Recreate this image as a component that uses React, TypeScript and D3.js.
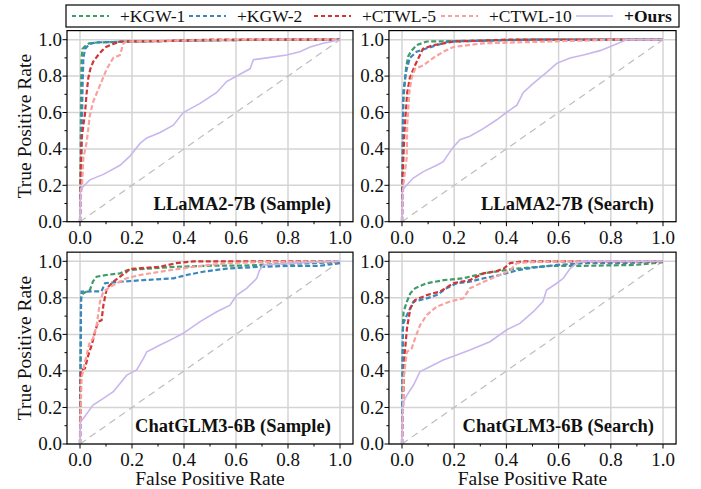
import React from "react";
import * as d3 from "d3";

type Pt = [number, number];

const seriesNames = ["+KGW-1", "+KGW-2", "+CTWL-5", "+CTWL-10", "+Ours"];
const seriesColors = ["#3f9b68", "#3a87c0", "#d23535", "#f8a19d", "#c9b6ec"];
const panelTitles = ["LLaMA2-7B (Sample)", "LLaMA2-7B (Search)", "ChatGLM3-6B (Sample)", "ChatGLM3-6B (Search)"];
const tickValues = [0, 0.2, 0.4, 0.6, 0.8, 1.0];
const minorTickValues = [0.1, 0.3, 0.5, 0.7, 0.9];

// LLaMA2-7B (Sample)
const llamaSampleKGW1: Pt[] = [[0,0],[0.002,0.3],[0.004,0.7],[0.006,0.9],[0.01,0.95],[0.02,0.965],[0.035,0.98],[0.07,0.985],[0.2,0.99],[0.45,0.995],[0.7,1],[1,1]];
const llamaSampleKGW2: Pt[] = [[0,0],[0.004,0.25],[0.007,0.5],[0.01,0.75],[0.013,0.9],[0.02,0.95],[0.035,0.975],[0.06,0.985],[0.2,0.99],[0.45,0.995],[0.7,1],[1,1]];
const llamaSampleCTWL5: Pt[] = [[0,0],[0.002,0.2],[0.004,0.35],[0.0065,0.46],[0.012,0.52],[0.019,0.59],[0.025,0.7],[0.032,0.79],[0.04,0.84],[0.051,0.88],[0.07,0.916],[0.085,0.94],[0.1,0.96],[0.125,0.975],[0.154,0.99],[0.3,0.992],[0.5,1],[1,1]];
const llamaSampleCTWL10: Pt[] = [[0,0],[0.004,0.15],[0.008,0.2],[0.013,0.35],[0.026,0.44],[0.038,0.586],[0.051,0.66],[0.077,0.75],[0.103,0.84],[0.128,0.9],[0.154,0.916],[0.167,0.98],[0.18,0.99],[0.4,0.995],[0.6,1],[1,1]];
const llamaSampleOurs: Pt[] = [[0,0],[0.002,0.18],[0.01,0.19],[0.038,0.23],[0.09,0.26],[0.154,0.31],[0.192,0.36],[0.231,0.43],[0.257,0.46],[0.308,0.49],[0.359,0.53],[0.397,0.6],[0.462,0.65],[0.526,0.71],[0.564,0.77],[0.615,0.81],[0.654,0.84],[0.667,0.89],[0.718,0.9],[0.795,0.916],[0.846,0.934],[0.885,0.96],[0.936,0.98],[1,1]];

// LLaMA2-7B (Search)
const llamaSearchKGW1: Pt[] = [[0,0],[0.002,0.3],[0.004,0.55],[0.005,0.66],[0.011,0.77],[0.016,0.85],[0.024,0.91],[0.037,0.94],[0.056,0.97],[0.095,0.99],[0.3,0.995],[0.45,1],[1,1]];
const llamaSearchKGW2: Pt[] = [[0,0],[0.002,0.3],[0.004,0.6],[0.005,0.714],[0.015,0.82],[0.03,0.9],[0.056,0.934],[0.095,0.953],[0.133,0.97],[0.18,0.99],[0.5,1],[1,1]];
const llamaSearchCTWL5: Pt[] = [[0,0],[0.003,0.25],[0.008,0.45],[0.011,0.53],[0.02,0.71],[0.03,0.79],[0.05,0.86],[0.069,0.916],[0.08,0.95],[0.12,0.97],[0.16,0.98],[0.2,0.99],[0.4,1],[1,1]];
const llamaSearchCTWL10: Pt[] = [[0,0],[0.005,0.2],[0.018,0.35],[0.02,0.53],[0.028,0.71],[0.037,0.79],[0.05,0.84],[0.082,0.86],[0.12,0.9],[0.158,0.934],[0.197,0.96],[0.31,0.98],[0.56,0.99],[0.82,1],[1,1]];
const llamaSearchOurs: Pt[] = [[0,0],[0.002,0.17],[0.005,0.18],[0.043,0.24],[0.082,0.275],[0.133,0.31],[0.158,0.33],[0.184,0.385],[0.197,0.41],[0.222,0.45],[0.26,0.47],[0.31,0.51],[0.363,0.56],[0.4,0.6],[0.44,0.64],[0.465,0.71],[0.503,0.76],[0.554,0.82],[0.593,0.87],[0.644,0.9],[0.695,0.916],[0.759,0.94],[0.81,0.97],[0.86,1],[1,1]];

// ChatGLM3-6B (Sample)
const glmSampleKGW1: Pt[] = [[0,0],[0.002,0.4],[0.004,0.8],[0.013,0.825],[0.038,0.843],[0.05,0.89],[0.064,0.916],[0.1,0.925],[0.154,0.934],[0.18,0.95],[0.257,0.96],[0.37,0.97],[0.5,0.976],[0.628,0.976],[0.757,0.985],[0.885,0.99],[1,0.995]];
const glmSampleKGW2: Pt[] = [[0,0],[0.002,0.4],[0.004,0.78],[0.006,0.834],[0.083,0.836],[0.096,0.88],[0.154,0.888],[0.244,0.897],[0.36,0.907],[0.41,0.925],[0.474,0.943],[0.564,0.96],[0.69,0.97],[0.82,0.975],[0.92,0.975],[1,0.99]];
const glmSampleCTWL5: Pt[] = [[0,0],[0.002,0.2],[0.003,0.405],[0.019,0.414],[0.032,0.487],[0.045,0.542],[0.058,0.615],[0.07,0.67],[0.083,0.677],[0.09,0.76],[0.103,0.852],[0.128,0.888],[0.18,0.943],[0.19,0.958],[0.308,0.97],[0.37,0.99],[0.436,1],[1,1]];
const glmSampleCTWL10: Pt[] = [[0,0],[0.003,0.21],[0.006,0.36],[0.019,0.45],[0.038,0.56],[0.05,0.578],[0.064,0.65],[0.077,0.78],[0.09,0.834],[0.128,0.87],[0.18,0.907],[0.231,0.925],[0.308,0.943],[0.436,0.97],[0.564,0.99],[0.69,0.995],[1,1]];
const glmSampleOurs: Pt[] = [[0,0],[0.002,0.122],[0.013,0.14],[0.05,0.213],[0.09,0.25],[0.128,0.286],[0.18,0.377],[0.218,0.405],[0.244,0.469],[0.257,0.505],[0.308,0.542],[0.36,0.578],[0.397,0.606],[0.462,0.67],[0.526,0.724],[0.577,0.76],[0.603,0.815],[0.641,0.852],[0.68,0.907],[0.69,0.95],[0.705,0.98],[0.82,0.99],[1,1]];

// ChatGLM3-6B (Search)
const glmSearchKGW1: Pt[] = [[0,0],[0.002,0.4],[0.004,0.67],[0.006,0.724],[0.019,0.78],[0.032,0.825],[0.05,0.852],[0.095,0.88],[0.16,0.897],[0.235,0.907],[0.313,0.934],[0.39,0.95],[0.44,0.96],[0.567,0.975],[0.695,0.975],[0.89,0.98],[1,0.995]];
const glmSearchKGW2: Pt[] = [[0,0],[0.002,0.4],[0.003,0.62],[0.005,0.66],[0.019,0.706],[0.044,0.78],[0.095,0.797],[0.133,0.815],[0.17,0.852],[0.21,0.88],[0.26,0.888],[0.313,0.907],[0.375,0.925],[0.44,0.95],[0.503,0.965],[0.595,0.98],[0.7,0.99],[0.85,0.99],[1,1]];
const glmSearchCTWL5: Pt[] = [[0,0],[0.004,0.2],[0.008,0.4],[0.011,0.505],[0.019,0.633],[0.032,0.743],[0.05,0.788],[0.095,0.815],[0.146,0.834],[0.197,0.88],[0.26,0.897],[0.313,0.934],[0.363,0.947],[0.39,0.96],[0.414,0.99],[0.465,1],[1,1]];
const glmSearchCTWL10: Pt[] = [[0,0],[0.004,0.2],[0.006,0.36],[0.019,0.505],[0.037,0.523],[0.05,0.578],[0.069,0.65],[0.095,0.706],[0.133,0.752],[0.184,0.78],[0.235,0.797],[0.26,0.852],[0.313,0.888],[0.375,0.925],[0.414,0.95],[0.44,0.99],[0.49,0.995],[0.6,1],[1,1]];
const glmSearchOurs: Pt[] = [[0,0],[0.002,0.2],[0.005,0.23],[0.019,0.268],[0.044,0.323],[0.069,0.396],[0.107,0.423],[0.158,0.46],[0.21,0.487],[0.26,0.514],[0.337,0.56],[0.4,0.624],[0.452,0.66],[0.503,0.724],[0.54,0.78],[0.554,0.843],[0.593,0.88],[0.618,0.907],[0.644,0.96],[0.67,0.99],[0.69,1],[1,1]];

const panelData: Pt[][][] = [
  [llamaSampleKGW1, llamaSampleKGW2, llamaSampleCTWL5, llamaSampleCTWL10, llamaSampleOurs],
  [llamaSearchKGW1, llamaSearchKGW2, llamaSearchCTWL5, llamaSearchCTWL10, llamaSearchOurs],
  [glmSampleKGW1, glmSampleKGW2, glmSampleCTWL5, glmSampleCTWL10, glmSampleOurs],
  [glmSearchKGW1, glmSearchKGW2, glmSearchCTWL5, glmSearchCTWL10, glmSearchOurs],
];

const FONT = "'Liberation Serif', 'Times New Roman', serif";

const panelLayout = [
  { x0: 80, x1: 340, yTop: 39.7, yBot: 221.7, showY: true, showX: false },
  { x0: 402, x1: 663, yTop: 39.7, yBot: 221.7, showY: false, showX: false },
  { x0: 80, x1: 340, yTop: 261.3, yBot: 444, showY: true, showX: true },
  { x0: 402, x1: 663, yTop: 261.3, yBot: 444, showY: false, showX: true },
];

function Panel({ idx }: { idx: number }) {
  const L = panelLayout[idx];
  const xs = d3.scaleLinear().domain([0, 1]).range([L.x0, L.x1]);
  const ys = d3.scaleLinear().domain([0, 1]).range([L.yBot, L.yTop]);
  const left = xs(-0.05), right = xs(1.05), top = ys(1.05), bottom = ys(0);
  const line = d3.line<Pt>().x(d => xs(d[0])).y(d => ys(d[1]));
  const data = panelData[idx];
  return (
    <g>
      <defs>
        <clipPath id={`clip${idx}`}>
          <rect x={left} y={top} width={right - left} height={bottom - top} />
        </clipPath>
      </defs>
      {tickValues.map(t => (
        <line key={"gx" + t} x1={xs(t)} x2={xs(t)} y1={top} y2={bottom} stroke="#d4d4d4" strokeWidth={1.5} />
      ))}
      {tickValues.map(t => (
        <line key={"gy" + t} x1={left} x2={right} y1={ys(t)} y2={ys(t)} stroke="#d4d4d4" strokeWidth={1.5} />
      ))}
      <line x1={xs(0)} y1={ys(0)} x2={xs(1)} y2={ys(1)} stroke="#bdbdbd" strokeWidth={1.2} strokeDasharray="7,5" />
      <g clipPath={`url(#clip${idx})`}>
        {data.map((s, i) => (
          <path key={i} d={line(s) || ""} fill="none" stroke={seriesColors[i]}
            strokeWidth={i === 4 ? 1.6 : 2.2}
            strokeDasharray={i === 4 ? undefined : "5,2.5"} />
        ))}
      </g>
      <rect x={left} y={top} width={right - left} height={bottom - top} fill="none" stroke="#000" strokeWidth={1.2} />
      {tickValues.map(t => (
        <g key={"ty" + t}>
          <line x1={left - 4.5} x2={left} y1={ys(t)} y2={ys(t)} stroke="#000" strokeWidth={1} />
          <text x={left - 5} y={ys(t)} dy="0.33em" textAnchor="end" fontSize={19} fontFamily={FONT} fill="#111">{d3.format(".1f")(t)}</text>
        </g>
      ))}
      {minorTickValues.map(t => (
        <line key={"my" + t} x1={left - 2.5} x2={left} y1={ys(t)} y2={ys(t)} stroke="#000" strokeWidth={1} />
      ))}
      {tickValues.map(t => (
        <g key={"tx" + t}>
          <line x1={xs(t)} x2={xs(t)} y1={bottom} y2={bottom + 4.5} stroke="#000" strokeWidth={1} />
          <text x={xs(t)} y={bottom + 22} textAnchor="middle" fontSize={19} fontFamily={FONT} fill="#111">{d3.format(".1f")(t)}</text>
        </g>
      ))}
      {minorTickValues.map(t => (
        <line key={"mx" + t} x1={xs(t)} x2={xs(t)} y1={bottom} y2={bottom + 2.5} stroke="#000" strokeWidth={1} />
      ))}
      <text x={xs(0.965)} y={ys(0.065)} textAnchor="end" fontSize={18.5} fontWeight="bold" fontFamily={FONT} fill="#111">{panelTitles[idx]}</text>
      {L.showY && (
        <text transform={`translate(31,${(top + bottom) / 2}) rotate(-90)`} textAnchor="middle" fontSize={19.5} fontFamily={FONT} fill="#111">True Positive Rate</text>
      )}
      {L.showX && (
        <text x={xs(0.5)} y={bottom + 41} textAnchor="middle" fontSize={19.5} fontFamily={FONT} fill="#111">False Positive Rate</text>
      )}
    </g>
  );
}

const legendTextX = [120, 237, 362, 489, 624];

function Legend() {
  return (
    <g>
      <rect x={66} y={5} width={613} height={22} fill="#fff" stroke="#000" strokeWidth={1.2} />
      {seriesNames.map((n, i) => (
        <g key={n}>
          <line x1={legendTextX[i] - 48} x2={legendTextX[i] - 11} y1={16} y2={16} stroke={seriesColors[i]}
            strokeWidth={i === 4 ? 1.6 : 2.2} strokeDasharray={i === 4 ? undefined : "4,3"} />
          <text x={legendTextX[i]} y={22} fontSize={17.5} fontFamily={FONT} fontWeight={i === 4 ? "bold" : "normal"} fill="#111">{n}</text>
        </g>
      ))}
    </g>
  );
}

export default function App() {
  return (
    <svg width={701} height={489} style={{ position: "absolute", left: 0, top: 0, background: "#fff" }}>
      <rect width={701} height={489} fill="#fff" />
      {[0, 1, 2, 3].map(i => <Panel key={i} idx={i} />)}
      <Legend />
    </svg>
  );
}
